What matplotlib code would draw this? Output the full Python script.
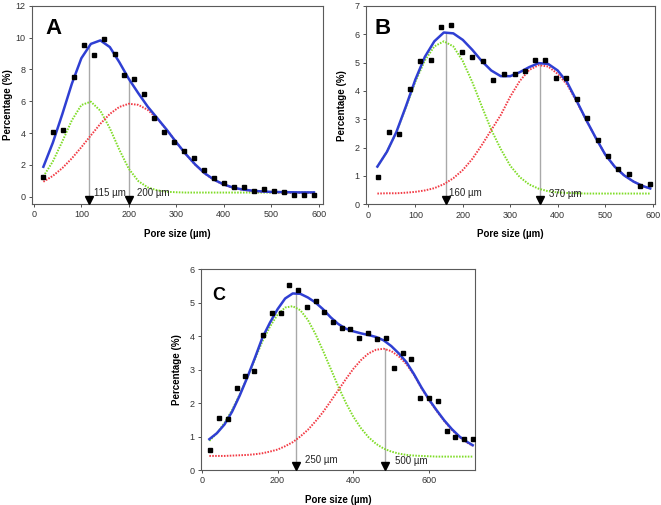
from __future__ import annotations

import matplotlib
matplotlib.use("Agg")
import matplotlib.pyplot as plt
import matplotlib.transforms as mtransforms

plt.rcParams["font.family"] = ["Liberation Sans", "DejaVu Sans"]

BLUE = "#2f3fd3"
GREEN = "#7fdc26"
RED = "#f23a44"
GUIDE = "#a9a9a9"
SPINE = "#5a5a5a"
DOTS = (0, (0.8, 0.7))

# ---- panel A ----
pts_x_a = [20, 41, 62, 84, 105, 126, 148, 170, 190, 211, 232, 253, 274, 295,
           316, 337, 358, 379, 400, 421, 443, 464, 485, 506, 527, 548, 569, 590]
pts_y_a = [1.21, 4.06, 4.19, 7.54, 9.53, 8.88, 9.88, 8.96, 7.62, 7.41, 6.45, 4.96,
           4.06, 3.43, 2.85, 2.43, 1.68, 1.15, 0.84, 0.63, 0.59, 0.38, 0.50, 0.38,
           0.29, 0.13, 0.13, 0.08]
curve_x_a = [20, 40, 60, 80, 100, 120, 140, 160, 180, 200, 220, 240, 260, 280, 300,
             320, 340, 360, 380, 400, 420, 440, 460, 480, 500, 520, 540, 560, 580, 590]
fit_a = [1.88, 3.4, 5.2, 7.1, 8.7, 9.6, 9.82, 9.4, 8.45, 7.4, 6.5, 5.65, 4.93, 4.2,
         3.42, 2.68, 2.02, 1.47, 1.06, 0.77, 0.57, 0.45, 0.38, 0.33, 0.30, 0.29,
         0.28, 0.27, 0.27, 0.27]
green_a = [1.27, 2.22, 3.48, 4.80, 5.76, 5.97, 5.40, 4.30, 2.95, 1.75, 0.98, 0.58,
           0.40, 0.31, 0.28, 0.26, 0.26, 0.26, 0.26, 0.26, 0.26, 0.26, 0.26, 0.26,
           0.26, 0.26, 0.26, 0.26, 0.26, 0.26]
red_a = [0.94, 1.31, 1.80, 2.41, 3.11, 3.85, 4.58, 5.20, 5.64, 5.84, 5.77, 5.45,
         4.90, 4.20, 3.42, 2.66, 2.00, 1.45, 1.04, 0.75, 0.55, 0.43, 0.36, 0.31,
         0.28, 0.27, 0.26, 0.25, 0.25, 0.25]
peak_x_a = [117, 201]
peak_top_a = [9.42, 7.33]
peak_labels_a = ["115 µm", "200 µm"]
peak_label_y_a = [0.23, 0.23]

# ---- panel B ----
pts_x_b = [21, 44, 66, 88, 110, 132, 154, 176, 199, 220, 242, 264, 286, 309,
           331, 352, 374, 396, 418, 440, 462, 484, 506, 528, 550, 573, 594]
pts_y_b = [0.95, 2.54, 2.47, 4.08, 5.05, 5.09, 6.26, 6.32, 5.36, 5.20, 5.06, 4.39,
           4.60, 4.58, 4.71, 5.09, 5.09, 4.45, 4.46, 3.73, 3.03, 2.27, 1.70, 1.23,
           1.08, 0.65, 0.73]
curve_x_b = [20, 40, 60, 80, 100, 120, 140, 160, 180, 200, 220, 240, 260, 280, 300,
             320, 340, 360, 380, 400, 420, 440, 460, 480, 500, 520, 540, 560, 580, 595]
fit_b = [1.33, 1.85, 2.55, 3.45, 4.4, 5.2, 5.75, 6.06, 6.03, 5.8, 5.45, 5.05, 4.72,
         4.52, 4.52, 4.66, 4.84, 4.98, 4.95, 4.72, 4.30, 3.65, 2.98, 2.35, 1.76,
         1.33, 1.02, 0.80, 0.64, 0.56]
green_b = [1.33, 1.85, 2.54, 3.42, 4.32, 5.07, 5.57, 5.75, 5.57, 5.05, 4.31, 3.46,
           2.63, 1.95, 1.36, 0.96, 0.70, 0.55, 0.46, 0.42, 0.40, 0.39, 0.38, 0.38,
           0.38, 0.38, 0.38, 0.38, 0.38, 0.38]
red_b = [0.38, 0.39, 0.39, 0.41, 0.44, 0.49, 0.57, 0.71, 0.92, 1.21, 1.60, 2.09,
         2.62, 3.15, 3.80, 4.35, 4.74, 4.91, 4.86, 4.60, 4.22, 3.62, 2.97, 2.35,
         1.76, 1.33, 1.02, 0.80, 0.64, 0.56]
peak_x_b = [164, 362]
peak_top_b = [6.08, 5.0]
peak_labels_b = ["160 µm", "370 µm"]
peak_label_y_b = [0.40, 0.37]

# ---- panel C ----
pts_x_c = [22, 46, 69, 92, 115, 138, 161, 185, 208, 230, 253, 277, 301, 323, 347,
           370, 392, 415, 439, 462, 485, 508, 530, 553, 577, 600, 623, 646, 669,
           691, 716]
pts_y_c = [0.59, 1.55, 1.51, 2.46, 2.81, 2.97, 4.04, 4.70, 4.70, 5.53, 5.36, 4.87,
           5.06, 4.73, 4.41, 4.24, 4.22, 3.95, 4.10, 3.90, 3.95, 3.05, 3.49, 3.32,
           2.15, 2.14, 2.05, 1.16, 0.99, 0.92, 0.92]
curve_x_c = [20, 40, 60, 80, 100, 120, 140, 160, 180, 200, 220, 240, 260, 280, 300,
             320, 340, 360, 380, 400, 420, 440, 460, 480, 500, 520, 540, 560, 580,
             600, 620, 640, 660, 680, 700, 715]
fit_c = [0.92, 1.1, 1.36, 1.74, 2.22, 2.76, 3.34, 3.95, 4.40, 4.80, 5.12, 5.27, 5.26,
         5.15, 5.0, 4.8, 4.56, 4.36, 4.22, 4.14, 4.08, 4.03, 3.97, 3.87, 3.70, 3.48,
         3.22, 2.86, 2.46, 2.10, 1.78, 1.48, 1.22, 1.0, 0.84, 0.74]
green_c = [0.87, 1.10, 1.41, 1.79, 2.25, 2.76, 3.30, 3.84, 4.28, 4.64, 4.85, 4.89,
           4.77, 4.48, 4.06, 3.56, 3.03, 2.50, 2.01, 1.59, 1.25, 0.98, 0.78, 0.64,
           0.55, 0.49, 0.45, 0.43, 0.42, 0.41, 0.40, 0.40, 0.40, 0.40, 0.40, 0.40]
red_c = [0.42, 0.42, 0.42, 0.43, 0.44, 0.45, 0.47, 0.50, 0.55, 0.61, 0.71, 0.83,
         1.00, 1.20, 1.45, 1.73, 2.05, 2.38, 2.71, 3.02, 3.28, 3.48, 3.59, 3.62,
         3.55, 3.39, 3.16, 2.84, 2.44, 2.08, 1.76, 1.46, 1.20, 0.98, 0.82, 0.72]
peak_x_c = [249, 484]
peak_top_c = [5.27, 3.65]
peak_labels_c = ["250 µm", "500 µm"]
peak_label_y_c = [0.31, 0.27]


def draw_panel(ax, letter, pts_x, pts_y, curve_x, fit, green, red, peak_x, peak_top,
               peak_labels, peak_label_y, label_dx, xlim, ylim, xticks, yticks,
               letter_xy, letter_size, ylabel_x):
    ax.set_xlim(*xlim)
    ax.set_ylim(*ylim)
    ax.vlines(peak_x, ylim[0], peak_top, color=GUIDE, linewidth=1.0, zorder=1)
    ax.plot(curve_x, green, color=GREEN, linewidth=1.4, linestyle=DOTS, zorder=2)
    ax.plot(curve_x, red, color=RED, linewidth=1.4, linestyle=DOTS, zorder=2)
    ax.plot(curve_x, fit, color=BLUE, linewidth=1.8, zorder=3)
    ax.plot(pts_x, pts_y, "s", color="black", markersize=3.5, zorder=4)

    # downward arrows marking the peak positions on the bottom axis
    trans = mtransforms.blended_transform_factory(ax.transData, ax.transAxes)
    ax.plot(peak_x, [0.021] * len(peak_x), "v", color="black", markersize=5.5,
            transform=trans, clip_on=False, zorder=5)
    for x, lab, y, dx in zip(peak_x, peak_labels, peak_label_y, label_dx):
        ax.annotate(lab, (x, y), xytext=(dx, 0), textcoords="offset points",
                    fontsize=7, va="center", ha="left", color="#222222")

    ax.text(letter_xy[0], letter_xy[1], letter, transform=ax.transAxes,
            fontsize=letter_size, fontweight="bold", va="top", ha="left")

    ax.set_xticks(xticks)
    ax.set_yticks(yticks)
    ax.tick_params(direction="out", length=2.5, width=0.6, labelsize=6.5,
                   colors="#333333", pad=2)
    for sp in ax.spines.values():
        sp.set_color(SPINE)
        sp.set_linewidth(0.8)
    ax.set_xlabel("Pore size (µm)", fontsize=7, fontweight="bold", labelpad=7)
    ax.set_ylabel("Percentage (%)", fontsize=7, fontweight="bold")
    ax.yaxis.set_label_coords(ylabel_x, 0.5)


fig = plt.figure(figsize=(6.61, 5.05), dpi=100)
fig.patch.set_facecolor("white")

ax_a = fig.add_axes([0.0484, 0.596, 0.4402, 0.3927])
draw_panel(ax_a, "A", pts_x_a, pts_y_a, curve_x_a, fit_a, green_a, red_a,
           peak_x_a, peak_top_a, peak_labels_a, peak_label_y_a, [3.2, 5.8],
           (-4, 609), (-0.46, 12), range(0, 601, 100), range(0, 13, 2),
           (0.045, 0.94), 16, -0.065)

ax_b = fig.add_axes([0.5537, 0.5954, 0.4372, 0.3930])
draw_panel(ax_b, "B", pts_x_b, pts_y_b, curve_x_b, fit_b, green_b, red_b,
           peak_x_b, peak_top_b, peak_labels_b, peak_label_y_b, [2.2, 7.0],
           (-4, 605), (0, 7), range(0, 601, 100), range(0, 8, 1),
           (0.031, 0.94), 16, -0.065)

ax_c = fig.add_axes([0.3041, 0.0693, 0.4145, 0.398])
draw_panel(ax_c, "C", pts_x_c, pts_y_c, curve_x_c, fit_c, green_c, red_c,
           peak_x_c, peak_top_c, peak_labels_c, peak_label_y_c, [6.6, 6.8],
           (-2, 721), (0, 6), range(0, 601, 200), range(0, 7, 1),
           (0.04, 0.91), 13, -0.07)

fig.savefig("out.png", dpi=100)
plt.close(fig)
